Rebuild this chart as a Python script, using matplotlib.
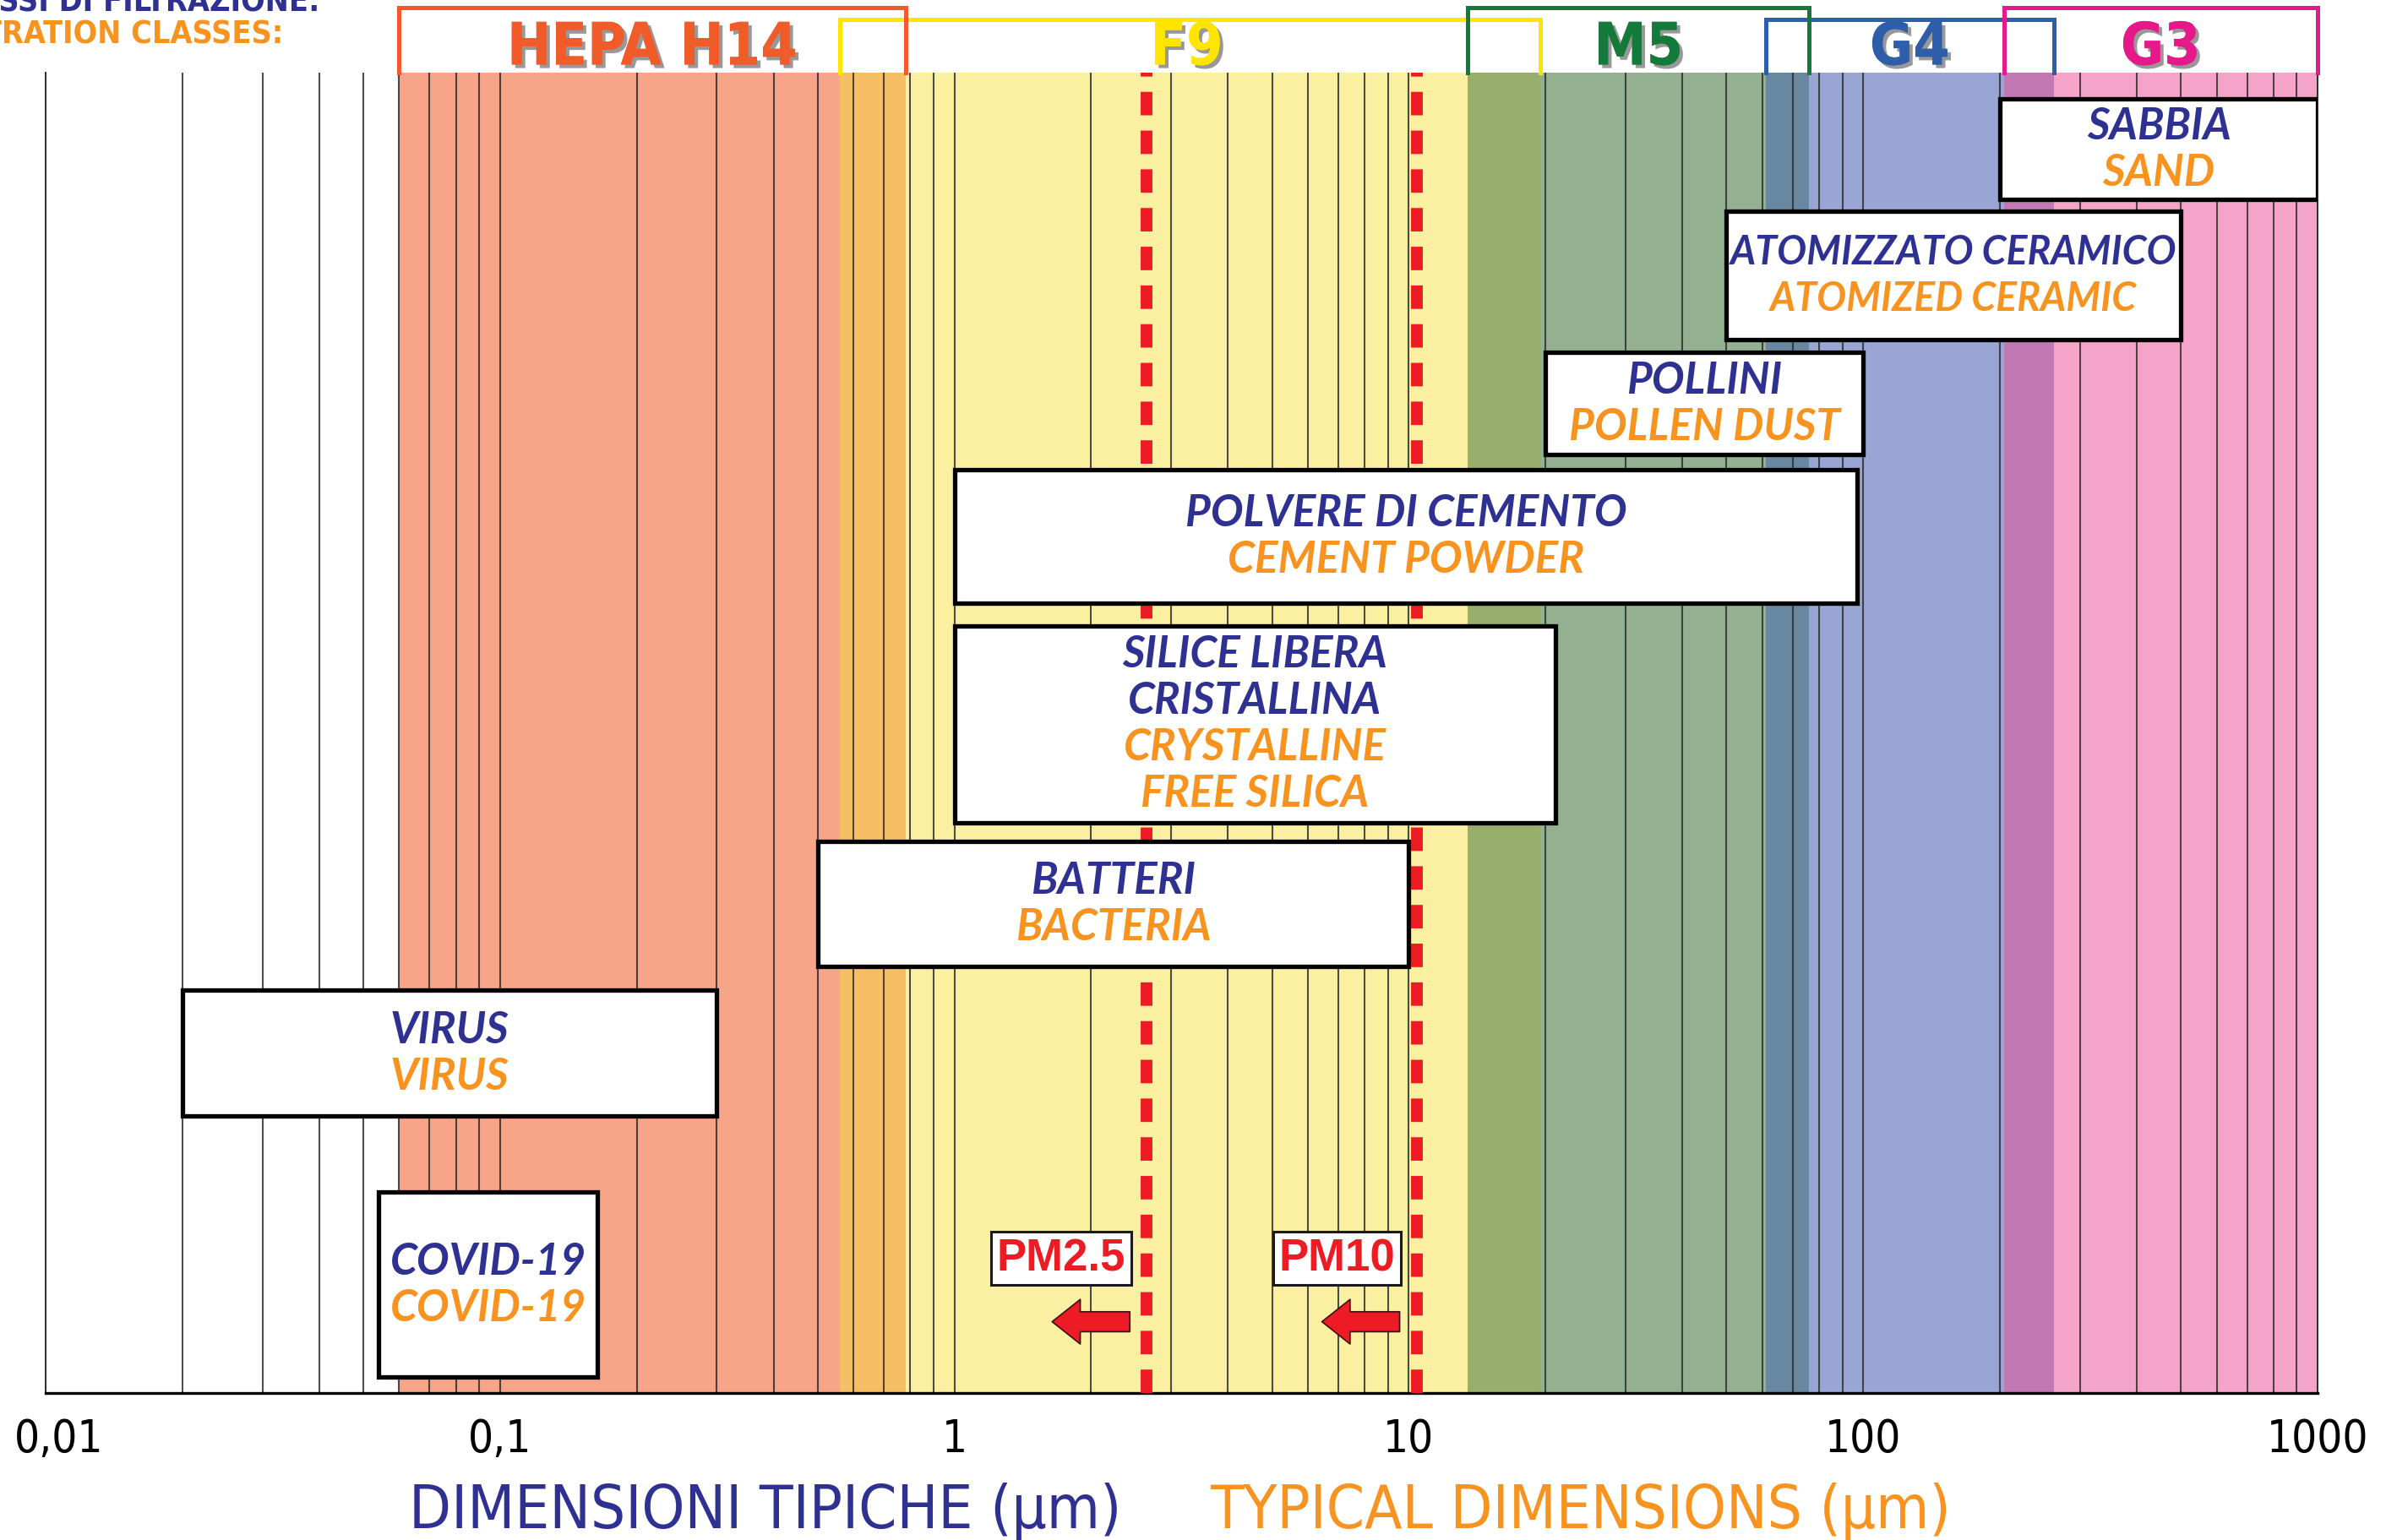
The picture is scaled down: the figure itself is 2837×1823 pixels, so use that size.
import matplotlib
matplotlib.use('Agg')
import matplotlib.pyplot as plt
import matplotlib.patheffects as pe
from matplotlib.patches import Rectangle
from matplotlib.ticker import LogLocator, NullFormatter
from matplotlib.transforms import offset_copy
import numpy as np

# filtration classes (frames on top), size range in um
classes = ['HEPA H14', 'F9', 'M5', 'G4', 'G3']
class_min = [0.06, 0.56, 13.5, 61, 204]
class_max = [0.78, 19.5, 76, 263, 1000]
class_colors = ['#F15A29', '#FFE500', '#137A3B', '#2E5EAA', '#E6198A']
band_colors = ['#F7A488', '#F6BF66', '#FBEFA2', '#97AE6C', '#93B091',
               '#6788A0', '#99A5D5', '#C178B3', '#F5A4C9']

# particles: italian / english name, typical size range in um
particles_it = ['SABBIA', 'ATOMIZZATO CERAMICO', 'POLLINI', 'POLVERE DI CEMENTO',
                'SILICE LIBERA\nCRISTALLINA', 'BATTERI', 'VIRUS', 'COVID-19']
particles_en = ['SAND', 'ATOMIZED CERAMIC', 'POLLEN DUST', 'CEMENT POWDER',
                'CRYSTALLINE\nFREE SILICA', 'BACTERIA', 'VIRUS', 'COVID-19']
size_min = [200, 50, 20, 1, 1, 0.5, 0.02, 0.054]
size_max = [1000, 500, 100, 97, 21, 10, 0.3, 0.164]

# PM thresholds (as drawn)
pm_labels = ['PM2.5', 'PM10']
pm_cut = [2.65, 10.4]

ticks = [0.01, 0.1, 1, 10, 100, 1000]
tick_labels = ['0,01', '0,1', '1', '10', '100', '1000']

# row layout of the particle boxes (0 = bottom, 100 = top of plot)
row_top = [98.0, 89.5, 78.8, 69.9, 58.1, 41.8, 30.5, 15.2]
row_bot = [90.4, 79.8, 71.1, 59.8, 43.2, 32.3, 21.0, 1.2]
row_fs = [37, 33.5, 37, 37, 37, 37, 37, 37]

BLUE = '#2E3192'
ORANGE = '#F7931E'
RED = '#ED1C24'
narrow = ['DejaVu Sans']
boxfont = ['Lato', 'DejaVu Sans']

fig = plt.figure(figsize=(28.37, 18.24), dpi=100)
ax = fig.add_axes([54 / 2837, 174 / 1824, 2689 / 2837, 1563 / 1824])
ax.set_xscale('log')
ax.set_xlim(0.01, 1000)
ax.set_ylim(0, 100)

# coloured bands from overlapping class ranges
edges = sorted(set(class_min + class_max))
for i in range(len(edges) - 1):
    ax.axvspan(edges[i], edges[i + 1], color=band_colors[i], lw=0, zorder=0.5)

# vertical grid at every log tick
ax.xaxis.set_major_locator(LogLocator(base=10, numticks=20))
ax.xaxis.set_minor_locator(LogLocator(base=10, subs=np.arange(2, 10), numticks=100))
ax.xaxis.set_minor_formatter(NullFormatter())
ax.set_axisbelow('line')
ax.grid(True, which='both', axis='x', color='#2f2f2f', lw=1.5, alpha=0.85)
ax.set_xticks(ticks, tick_labels)
ax.tick_params(which='both', length=0, pad=20)
ax.tick_params(axis='x', labelsize=38)
for lab in ax.get_xticklabels():
    lab.set_family(narrow)
    lab.set_stretch('condensed')
first = ax.xaxis.get_major_ticks()[0].label1
first.set_transform(offset_copy(first.get_transform(), fig=fig, x=16, y=0, units='dots'))
ax.set_yticks([])
ax.spines['top'].set_visible(False)
ax.spines['bottom'].set_linewidth(2.4)
for s in ['left', 'right']:
    ax.spines[s].set_linewidth(1.4)
    ax.spines[s].set_color('#2f2f2f')

# filtration class frames on top
for i, name in enumerate(classes):
    tall = i % 2 == 0
    ytop = 104.93 if tall else 104.03
    ax.plot([class_min[i], class_min[i], class_max[i], class_max[i]], [100, ytop, ytop, 100],
            color=class_colors[i], lw=3.6, clip_on=False, zorder=6 if tall else 5,
            solid_joinstyle='miter')
    xc = np.sqrt(class_min[i] * class_max[i]) if i != 1 else np.sqrt(class_max[0] * class_min[2])
    ax.text(xc, 101.86, name, color=class_colors[i], fontsize=50, fontweight='bold',
            family=narrow, stretch='condensed', ha='center', va='center', clip_on=False, zorder=7,
            path_effects=[pe.withSimplePatchShadow(offset=(3, -3), shadow_rgbFace='#444444', alpha=0.55),
                          pe.Normal()])

# PM lines
for i, pm in enumerate(pm_cut):
    ax.axvline(pm, color=RED, lw=10, dashes=(2.0, 1.3), solid_capstyle='butt', zorder=3)
    ax.text(pm, 10.2, pm_labels[i], color=RED, fontsize=38, fontweight='bold',
            family=['Liberation Sans', 'DejaVu Sans'], ha='right', va='center', zorder=8,
            transform=offset_copy(ax.transData, fig=fig, x=-25, y=0, units='dots'),
            bbox=dict(boxstyle='square,pad=0.12', fc='white', ec='#1a1a1a', lw=2.2))
    ax.annotate('', xy=(pm, 5.4), xytext=(pm, 5.4),
                xycoords=offset_copy(ax.transData, fig=fig, x=-112, y=0, units='dots'),
                textcoords=offset_copy(ax.transData, fig=fig, x=-20, y=0, units='dots'),
                arrowprops=dict(arrowstyle='simple,head_length=24,head_width=38,tail_width=17',
                                mutation_scale=1, fc=RED, ec='#3a1010', lw=1.2,
                                shrinkA=0, shrinkB=0), zorder=8)

# particle boxes
for i in range(len(particles_it)):
    ax.add_patch(Rectangle((size_min[i], row_bot[i]), size_max[i] - size_min[i],
                           row_top[i] - row_bot[i], fc='white', ec='black', lw=3.8, zorder=4))
    lines = particles_it[i].split('\n') + particles_en[i].split('\n')
    cols = [BLUE] * len(particles_it[i].split('\n')) + [ORANGE] * len(particles_en[i].split('\n'))
    xc = np.sqrt(size_min[i] * size_max[i])
    yc = (row_top[i] + row_bot[i]) / 2
    n = len(lines)
    for j, (t, c) in enumerate(zip(lines, cols)):
        dy = ((n - 1) / 2 - j) * 55
        ax.text(xc, yc, t, color=c, fontsize=row_fs[i], fontstyle='italic', fontweight='bold',
                family=boxfont, ha='center', va='center', zorder=5,
                transform=offset_copy(ax.transData, fig=fig, x=0, y=dy, units='dots'))

# header text (cut at the left edge, as in the original)
fig.text(379 / 2837, 1 - 4 / 1824, 'CLASSI DI FILTRAZIONE:', color=BLUE, fontsize=27,
         fontweight='bold', family=narrow, stretch='condensed', ha='right', va='center')
fig.text(335 / 2837, 1 - 41.5 / 1824, 'FILTRATION CLASSES:', color=ORANGE, fontsize=27,
         fontweight='bold', family=narrow, stretch='condensed', ha='right', va='center')

# axis titles
fig.text(906 / 2837, 1 - 1790 / 1824, 'DIMENSIONI TIPICHE (µm)', color=BLUE, fontsize=52,
         family=narrow, stretch='condensed', ha='center', va='center')
fig.text(1870 / 2837, 1 - 1790 / 1824, 'TYPICAL DIMENSIONS (µm)', color=ORANGE, fontsize=52,
         family=narrow, stretch='condensed', ha='center', va='center')

plt.savefig('out.png', dpi=100)
plt.close()
